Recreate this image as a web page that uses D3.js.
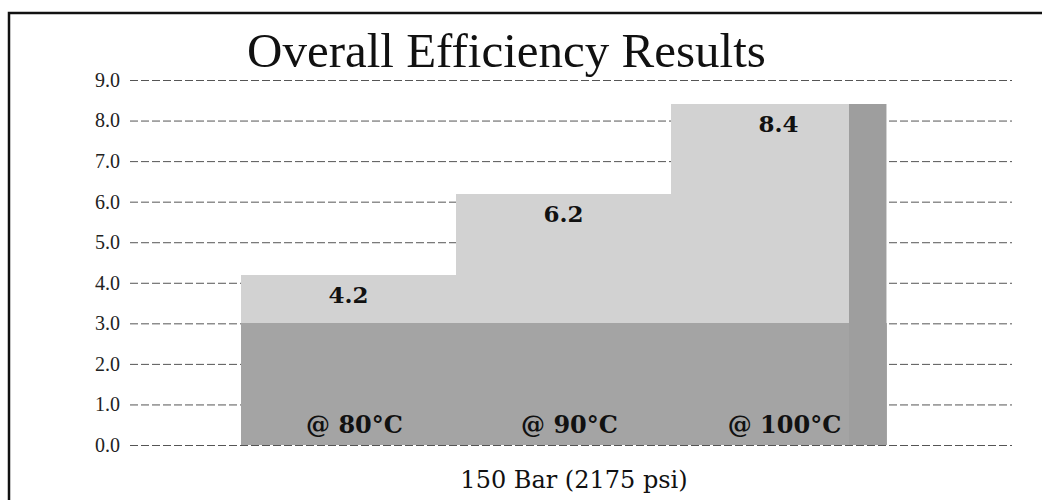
<!DOCTYPE html>
<html>
<head>
<meta charset="utf-8">
<script src="https://cdn.jsdelivr.net/npm/d3@7"></script>
<style>
  body { margin: 0; background: #fff; }
  svg { display: block; }
</style>
</head>
<body>
<div id="chart"></div>
<script>
// Overall efficiency at 150 bar, one bar per temperature
var categories = ['@ 80°C', '@ 90°C', '@ 100°C']
var efficiency = [4.2, 6.2, 8.4]
var yTicks = [0, 1, 2, 3, 4, 5, 6, 7, 8, 9]
var titleText = 'Overall Efficiency Results'
var xTitleText = '150 Bar (2175 psi)'

var width = 1042
var height = 500
var shadeLevel = 3.0 // darker band at the foot of the columns

var svg = d3.select('#chart').append('svg')
  .attr('width', width)
  .attr('height', height)

var y = d3.scaleLinear().domain([0, 9]).range([445, 80])
var x = d3.scaleBand().domain(categories).range([240, 887]).padding(0).round(true)

// frame around the whole chart
svg.append('rect')
  .attr('x', 9).attr('y', 13)
  .attr('width', 1100).attr('height', 600)
  .attr('fill', 'none')
  .attr('stroke', '#111')
  .attr('stroke-width', 2.5)

// y axis with dashed gridlines
var yAxis = d3.axisLeft(y)
  .tickValues(yTicks)
  .tickFormat(d3.format('.1f'))
  .tickSize(-(1012 - 130))
  .tickPadding(10)

var gy = svg.append('g')
  .attr('transform', 'translate(130,0)')
  .call(yAxis)
gy.select('.domain').remove()
gy.selectAll('.tick line')
  .attr('stroke', '#555')
  .attr('stroke-dasharray', '8,3')
gy.selectAll('.tick text')
  .attr('fill', '#222')
  .style('font-family', 'Liberation Serif')
  .style('font-size', '20px')

// columns
var bars = svg.append('g').selectAll('g')
  .data(categories)
  .join('g')
  .attr('shape-rendering', 'crispEdges')

bars.append('rect')
  .attr('x', function (d) { return x(d) })
  .attr('y', function (d, i) { return y(efficiency[i]) })
  .attr('width', x.bandwidth() + 1)
  .attr('height', function (d, i) { return y(0) - y(efficiency[i]) })
  .attr('fill', '#d2d2d2')

bars.append('rect')
  .attr('x', function (d) { return x(d) })
  .attr('y', function (d, i) { return y(Math.min(shadeLevel, efficiency[i])) })
  .attr('width', x.bandwidth() + 1)
  .attr('height', function (d, i) { return y(0) - y(Math.min(shadeLevel, efficiency[i])) })
  .attr('fill', '#a4a4a4')

// darker edge on the last column
var last = categories[categories.length - 1]
svg.append('rect')
  .attr('shape-rendering', 'crispEdges')
  .attr('x', x(last) + x.bandwidth() - 37)
  .attr('y', y(efficiency[efficiency.length - 1]))
  .attr('width', 37)
  .attr('height', y(0) - y(efficiency[efficiency.length - 1]))
  .attr('fill', '#9e9e9e')

// value labels
bars.append('text')
  .attr('x', function (d) { return x(d) + x.bandwidth() / 2 })
  .attr('y', function (d, i) { return y(efficiency[i]) + 28 })
  .attr('text-anchor', 'middle')
  .style('font-family', 'DejaVu Serif')
  .style('font-weight', 'bold')
  .style('font-size', '23px')
  .attr('fill', '#111')
  .text(function (d, i) { return efficiency[i].toFixed(1) })

// category labels inside the columns
bars.append('text')
  .attr('x', function (d) { return x(d) + x.bandwidth() / 2 + 6 })
  .attr('y', y(0) - 12)
  .attr('text-anchor', 'middle')
  .style('font-family', 'DejaVu Serif')
  .style('font-weight', 'bold')
  .style('font-size', '24px')
  .attr('fill', '#111')
  .text(function (d) { return d })

// titles
svg.append('text')
  .attr('x', 247)
  .attr('y', 67)
  .style('font-family', 'Liberation Serif')
  .style('font-size', '49px')
  .attr('fill', '#111')
  .text(titleText)

svg.append('text')
  .attr('x', 574)
  .attr('y', 488)
  .attr('text-anchor', 'middle')
  .style('font-family', 'DejaVu Serif')
  .style('font-size', '24px')
  .attr('fill', '#111')
  .text(xTitleText)
</script>
</body>
</html>
